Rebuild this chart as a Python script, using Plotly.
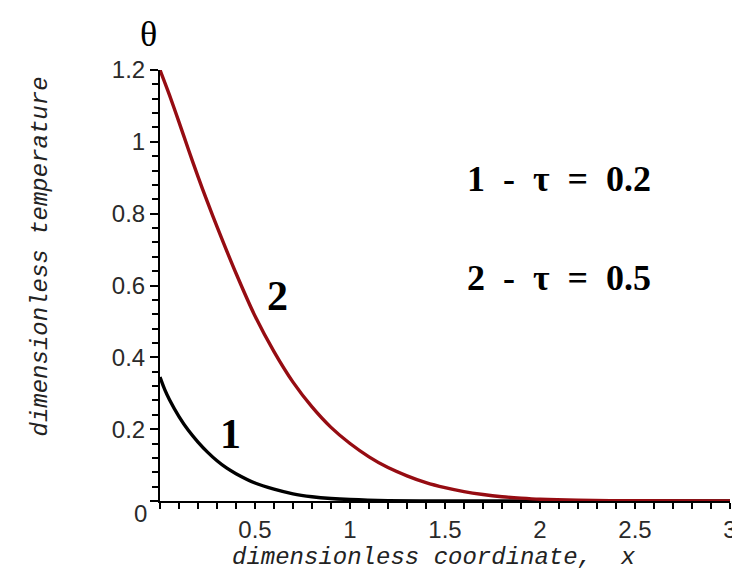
import plotly.graph_objects as go

# curve 1: tau = 0.2
x1 = [0.0, 0.025, 0.05, 0.1, 0.15, 0.2, 0.25, 0.3, 0.35, 0.4, 0.5, 0.6, 0.7, 0.8, 0.9, 1.0, 1.2, 1.5, 2.0, 2.5, 3.0]
theta1 = [0.345, 0.31, 0.282, 0.235, 0.196, 0.164, 0.136, 0.112, 0.092, 0.076, 0.05, 0.033, 0.02, 0.012, 0.007,
          0.004, 0.001, 0.0, 0.0, 0.0, 0.0]

# curve 2: tau = 0.5
x2 = [0.0, 0.05, 0.1, 0.15, 0.2, 0.25, 0.3, 0.4, 0.5, 0.6, 0.7, 0.8, 0.9, 1.0, 1.1, 1.2, 1.3, 1.4, 1.5,
      1.6, 1.7, 1.8, 1.9, 2.0, 2.2, 2.5, 3.0]
theta2 = [1.2, 1.13, 1.055, 0.978, 0.903, 0.832, 0.764, 0.634, 0.515, 0.416, 0.331, 0.262, 0.205, 0.16, 0.123,
          0.093, 0.07, 0.051, 0.037, 0.026, 0.018, 0.012, 0.008, 0.005, 0.002, 0.0005, 0.0]

x_ticks = [0.5, 1, 1.5, 2, 2.5, 3]
y_ticks = [0, 0.2, 0.4, 0.6, 0.8, 1, 1.2]

fig = go.Figure()

fig.add_trace(go.Scatter(
    x=x1, y=theta1, mode="lines",
    line=dict(color="#000000", width=3.4, shape="spline", smoothing=0.8),
    showlegend=False, cliponaxis=False,
))
fig.add_trace(go.Scatter(
    x=x2, y=theta2, mode="lines",
    line=dict(color="#960c12", width=3.4, shape="spline", smoothing=0.8),
    showlegend=False, cliponaxis=False,
))

tick_font = dict(family="Liberation Sans, Arial, sans-serif", size=24, color="#2a2a2a")
title_font = dict(family="Liberation Mono, Courier New, monospace", size=24, color="#222222")
label_font = dict(family="Liberation Serif, Times New Roman, serif", size=36, color="#000000")
big_font = dict(family="Liberation Serif, Times New Roman, serif", size=42, color="#000000")

sp = "\u2002"

# === подписи ===
fig.add_annotation(text="θ", x=-0.021, y=1.083, xref="paper", yref="paper",
                   xanchor="center", yanchor="middle", showarrow=False,
                   font=dict(family="Liberation Serif, serif", size=36, color="#000000"))
fig.add_annotation(text="<i>dimensionless temperature</i>", x=-0.21, y=0.568, xref="paper", yref="paper",
                   xanchor="center", yanchor="middle", textangle=-90, showarrow=False, font=title_font)
fig.add_annotation(text="<i>dimensionless coordinate,  x</i>", x=0.48, y=-0.13, xref="paper", yref="paper",
                   xanchor="center", yanchor="middle", showarrow=False, font=title_font)

fig.add_annotation(text=f"<b>1{sp}-{sp}τ{sp}={sp}0.2</b>", x=0.7, y=0.746, xref="paper", yref="paper",
                   xanchor="center", yanchor="middle", showarrow=False, font=label_font)
fig.add_annotation(text=f"<b>2{sp}-{sp}τ{sp}={sp}0.5</b>", x=0.7, y=0.517, xref="paper", yref="paper",
                   xanchor="center", yanchor="middle", showarrow=False, font=label_font)
fig.add_annotation(text="<b>1</b>", x=0.373, y=0.187, xref="x", yref="y",
                   xanchor="center", yanchor="middle", showarrow=False, font=big_font)
fig.add_annotation(text="<b>2</b>", x=0.617, y=0.571, xref="x", yref="y",
                   xanchor="center", yanchor="middle", showarrow=False, font=big_font)
# origin label sits a little below the axis, as in the original
fig.add_annotation(text="0", x=0, y=0, xref="x", yref="y", xshift=-20, yshift=-12,
                   xanchor="center", yanchor="middle", showarrow=False, font=tick_font)

fig.update_layout(
    width=740,
    height=576,
    margin=dict(l=152, r=11, t=62, b=83),
    plot_bgcolor="#ffffff",
    paper_bgcolor="#ffffff",
    showlegend=False,
)

fig.update_xaxes(
    range=[0, 3], tickvals=x_ticks, ticktext=[str(v) for v in x_ticks],
    showgrid=False, zeroline=False, showline=True, linecolor="#000000", linewidth=2,
    ticks="outside", ticklen=6, tickwidth=1.5, tickcolor="#000000", tickfont=tick_font,
    minor=dict(dtick=0.1, tick0=0, ticks="outside", ticklen=6, tickwidth=1.5, tickcolor="#000000"),
)
fig.update_yaxes(
    range=[0, 1.2], tickvals=y_ticks, ticktext=["" if v == 0 else str(v) for v in y_ticks],
    showgrid=False, zeroline=False, showline=True, linecolor="#000000", linewidth=2,
    ticks="outside", ticklen=8, tickwidth=1.5, tickcolor="#000000", tickfont=tick_font,
    minor=dict(dtick=0.04, tick0=0, ticks="outside", ticklen=6, tickwidth=1.5, tickcolor="#000000"),
)

fig.write_html("out.html")
